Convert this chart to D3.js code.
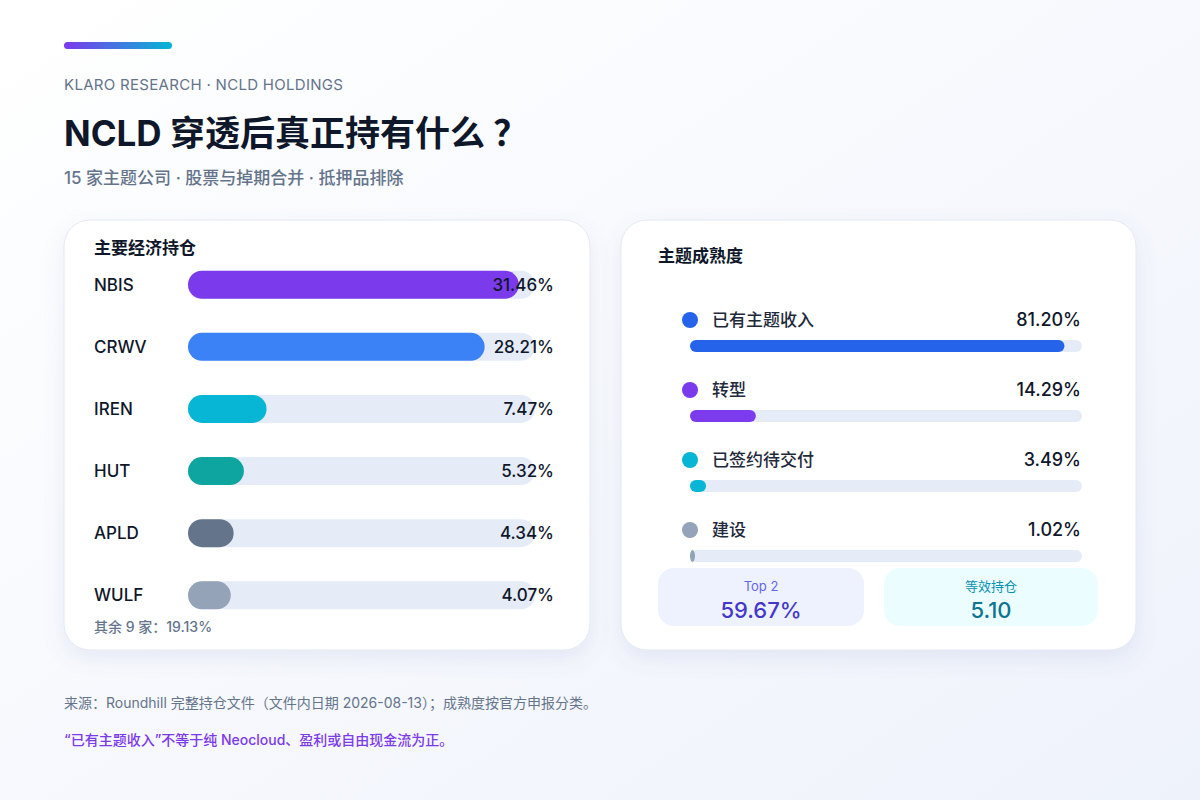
<!DOCTYPE html>
<html><head><meta charset="utf-8">
<script src="https://cdn.jsdelivr.net/npm/d3@7"></script>
<style>
body{margin:0;background:#f5f7fc;}
text{font-family:Inter,"Noto Sans CJK SC",sans-serif;}
</style></head>
<body><div id="chart"></div>
<script>
var tickers = ["NBIS","CRWV","IREN","HUT","APLD","WULF"];
var weights = [31.46,28.21,7.47,5.32,4.34,4.07];
var barColors = ["#7c3aed","#3b82f6","#06b6d4","#0ea5a0","#64748b","#94a3b8"];
var stages = ["已有主题收入","转型","已签约待交付","建设"];
var stageValues = [81.20,14.29,3.49,1.02];
var stageColors = ["#2563eb","#7c3aed","#06b6d4","#94a3b8"];

var svg = d3.select("#chart").append("svg").attr("width",1200).attr("height",800);
var defs = svg.append("defs");
var bg = defs.append("linearGradient").attr("id","bg").attr("x1",0).attr("y1",0).attr("x2",1).attr("y2",1);
bg.append("stop").attr("offset",0).attr("stop-color","#ffffff");
bg.append("stop").attr("offset",1).attr("stop-color","#eef2fb");
var acc = defs.append("linearGradient").attr("id","acc");
acc.append("stop").attr("offset",0).attr("stop-color","#7c3aed");
acc.append("stop").attr("offset",1).attr("stop-color","#06b6d4");
var sh = defs.append("filter").attr("id","sh").attr("x","-10%").attr("y","-10%").attr("width","120%").attr("height","130%");
sh.append("feDropShadow").attr("dx",0).attr("dy",8).attr("stdDeviation",10).attr("flood-color","#6478b4").attr("flood-opacity",0.12);

svg.append("rect").attr("width",1200).attr("height",800).attr("fill","url(#bg)");
svg.append("rect").attr("x",64).attr("y",42).attr("width",108).attr("height",7).attr("rx",3.5).attr("fill","url(#acc)");
svg.append("text").attr("x",64).attr("y",90).attr("font-size",15).attr("fill","#64748b").attr("letter-spacing",0.3).text("KLARO RESEARCH · NCLD HOLDINGS");
svg.append("text").attr("x",64).attr("y",146).attr("font-size",35).attr("font-weight",700).attr("fill","#0f172a").text("NCLD 穿透后真正持有什么 ？");
svg.append("text").attr("x",64).attr("y",184).attr("font-size",17).attr("font-weight",500).attr("fill","#64748b").text("15 家主题公司 · 股票与掉期合并 · 抵押品排除");

// cards
[[64,526],[621,515]].forEach(function(c){
  svg.append("rect").attr("x",c[0]).attr("y",220).attr("width",c[1]).attr("height",430).attr("rx",26)
    .attr("fill","#fff").attr("stroke","#e3e8f4").attr("filter","url(#sh)");
});

// left card
var L = svg.append("g");
L.append("text").attr("x",94).attr("y",254).attr("font-size",17).attr("font-weight",700).attr("fill","#0f172a").text("主要经济持仓");
var y = d3.scaleBand().domain(tickers).range([254,626]).paddingInner(0.55).paddingOuter(0.27);
var x = d3.scaleLinear().domain([0,33]).range([0,347]);
var rows = L.selectAll("g.row").data(tickers).join("g").attr("class","row")
  .attr("transform",function(d){return "translate(0,"+y(d)+")";});
var bh = 28;
rows.append("rect").attr("x",188).attr("width",347).attr("height",bh).attr("rx",14).attr("fill","#e6ecf7");
rows.append("rect").attr("x",188).attr("width",function(d,i){return x(weights[i]);}).attr("height",bh).attr("rx",14)
  .attr("fill",function(d,i){return barColors[i];});
rows.append("text").attr("x",94).attr("y",bh/2+6).attr("font-size",17).attr("font-weight",500).attr("fill","#0f172a").text(function(d){return d;});
rows.append("text").attr("x",554).attr("y",bh/2+6).attr("text-anchor","end").attr("font-size",17).attr("font-weight",500).attr("fill","#0f172a")
  .text(function(d,i){return weights[i].toFixed(2)+"%";});
L.append("text").attr("x",94).attr("y",632).attr("font-size",14).attr("font-weight",500).attr("fill","#64748b").text("其余 9 家：19.13%");

// right card
var R = svg.append("g");
R.append("text").attr("x",658).attr("y",262).attr("font-size",17).attr("font-weight",700).attr("fill","#0f172a").text("主题成熟度");
var sy = d3.scaleBand().domain(stages).range([300,580]).paddingInner(0).paddingOuter(0);
var sx = d3.scaleLinear().domain([0,85]).range([0,392]);
var srow = R.selectAll("g.s").data(stages).join("g").attr("class","s")
  .attr("transform",function(d){return "translate(0,"+sy(d)+")";});
srow.append("circle").attr("cx",690).attr("cy",20).attr("r",8).attr("fill",function(d,i){return stageColors[i];});
srow.append("text").attr("x",712).attr("y",26).attr("font-size",17).attr("font-weight",500).attr("fill","#1e293b").text(function(d){return d;});
srow.append("text").attr("x",1081).attr("y",26).attr("text-anchor","end").attr("font-size",18).attr("font-weight",500).attr("fill","#0f172a")
  .text(function(d,i){return stageValues[i].toFixed(2)+"%";});
srow.append("rect").attr("x",690).attr("y",40).attr("width",392).attr("height",12).attr("rx",6).attr("fill","#e6ecf7");
srow.append("rect").attr("x",690).attr("y",40).attr("width",function(d,i){return Math.max(5,sx(stageValues[i]));}).attr("height",12).attr("rx",6)
  .attr("fill",function(d,i){return stageColors[i];});

var boxes = [
  {x:658,w:206,fill:"#eef1fe",lab:"Top 2",val:"59.67%",lc:"#6366f1",vc:"#4338ca"},
  {x:884,w:214,fill:"#ecfdff",lab:"等效持仓",val:"5.10",lc:"#0891b2",vc:"#0e7490"}
];
boxes.forEach(function(b){
  R.append("rect").attr("x",b.x).attr("y",568).attr("width",b.w).attr("height",58).attr("rx",16).attr("fill",b.fill);
  R.append("text").attr("x",b.x+b.w/2).attr("y",591).attr("text-anchor","middle").attr("font-size",13).attr("fill",b.lc).text(b.lab);
  R.append("text").attr("x",b.x+b.w/2).attr("y",618).attr("text-anchor","middle").attr("font-size",22).attr("font-weight",500).attr("fill",b.vc).text(b.val);
});

svg.append("text").attr("x",64).attr("y",708).attr("font-size",14).attr("fill","#64748b").text("来源：Roundhill 完整持仓文件（文件内日期 2026-08-13）；成熟度按官方申报分类。");
svg.append("text").attr("x",64).attr("y",745).attr("font-size",14).attr("font-weight",500).attr("fill","#7c3aed").text("“已有主题收入”不等于纯 Neocloud、盈利或自由现金流为正。");
</script></body></html>
